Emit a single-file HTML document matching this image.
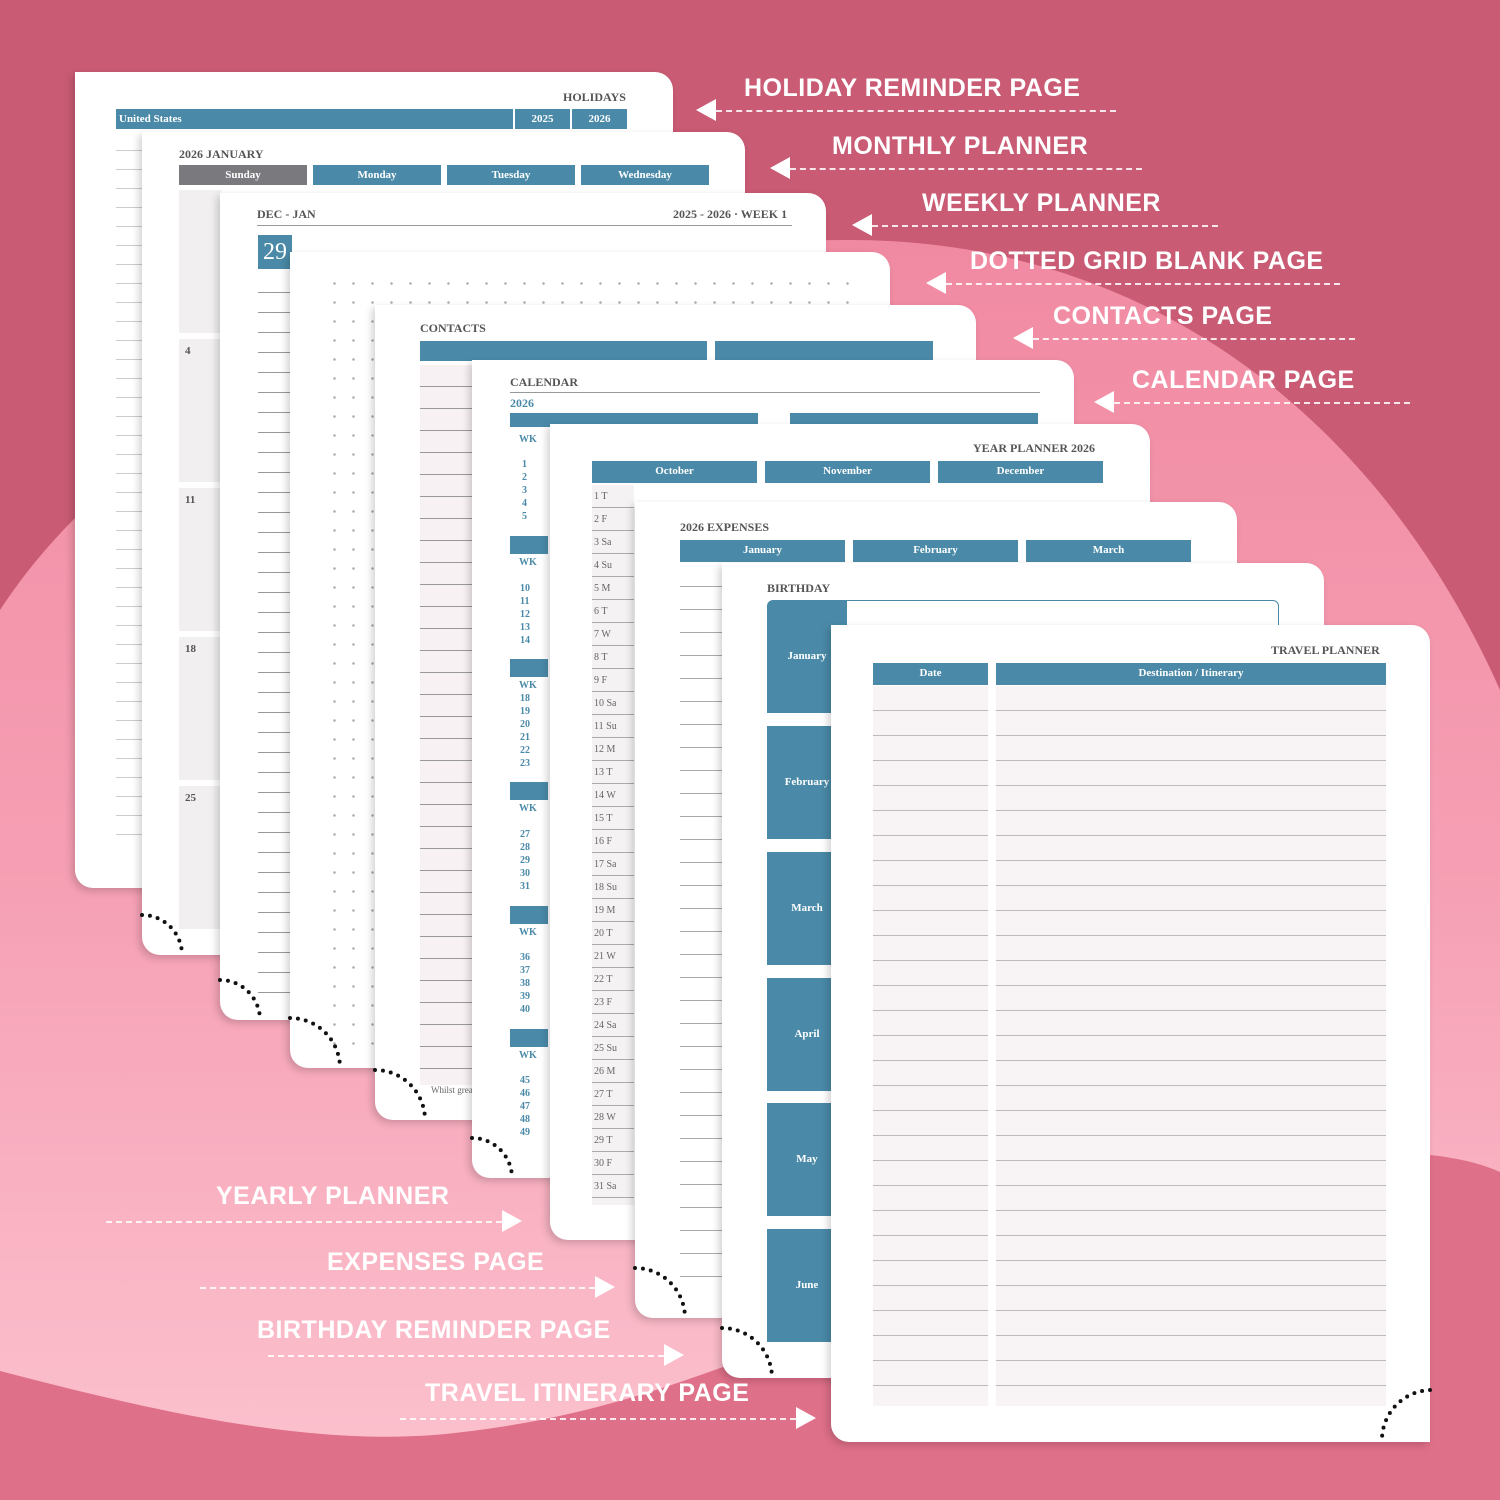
<!DOCTYPE html>
<html><head><meta charset="utf-8"><style>
*{margin:0;padding:0;box-sizing:border-box}
body{width:1500px;height:1500px;position:relative;overflow:hidden;font-family:"Liberation Serif",serif;background:#c95b74}
.pg{position:absolute;background:#fff;border-radius:0 18px 0 18px;box-shadow:-3px 3px 8px rgba(0,0,0,.18);overflow:hidden}
.t{position:absolute;font-weight:bold;color:#555;font-size:12px}
.bar{position:absolute;background:#4a8aa8;color:#fff;font-weight:bold;font-size:11px;text-align:center;line-height:20px}
.lab{position:absolute;color:#fff;font-family:"Liberation Sans",sans-serif;font-weight:bold;font-size:25px;letter-spacing:.5px}
.dl{position:absolute;border-top:2px dashed rgba(255,255,255,.85);height:0}
.al{position:absolute;width:0;height:0;border-top:11px solid transparent;border-bottom:11px solid transparent}
.lines{position:absolute}
.sm{position:absolute;font-size:10px;color:#4a8aa8;font-weight:bold}
.num{position:absolute;font-size:11px;color:#555;font-weight:bold}
</style></head><body>
<svg width="1500" height="1500" style="position:absolute;left:0;top:0">
<defs><linearGradient id="g" x1="0" y1="0" x2="0" y2="1"><stop offset="0" stop-color="#f08aa2"/><stop offset="0.5" stop-color="#f69fb4"/><stop offset="1" stop-color="#fcc3cf"/></linearGradient></defs>
<path d="M0 610 C150 380 500 240 850 240 C1150 240 1380 420 1500 690 L1500 1500 L0 1500Z" fill="url(#g)"/>
<path d="M0 1371 C150 1410 300 1445 434 1435 C600 1420 700 1375 850 1320 C1100 1220 1300 1150 1430 1155 C1460 1158 1485 1165 1500 1172 L1500 1500 L0 1500Z" fill="#df7089"/>
</svg>

<!-- 1 holiday -->
<div class="pg" style="left:75px;top:72px;width:598px;height:816px">
<div class="t" style="left:488px;top:18px">HOLIDAYS</div>
<div class="bar" style="left:41px;top:37px;width:397px;text-align:left;padding-left:3px">United States</div>
<div class="bar" style="left:440px;top:37px;width:55px">2025</div>
<div class="bar" style="left:497px;top:37px;width:55px">2026</div>
<div class="lines" style="left:41px;top:60px;width:30px;height:720px;background:repeating-linear-gradient(to bottom,#fff 0,#fff 18px,#ccc 18px,#ccc 19px)"></div>
</div>
<!-- 2 monthly -->
<div class="pg" style="left:142px;top:132px;width:603px;height:823px">
<div class="t" style="left:37px;top:15px">2026 JANUARY</div>
<div class="bar" style="left:37px;top:33px;width:128px;background:#7a7a7e">Sunday</div>
<div class="bar" style="left:171px;top:33px;width:128px">Monday</div>
<div class="bar" style="left:305px;top:33px;width:128px">Tuesday</div>
<div class="bar" style="left:439px;top:33px;width:128px">Wednesday</div>
<div style="position:absolute;left:37px;top:58px;width:42px;height:740px;background:repeating-linear-gradient(to bottom,#f1eff0 0,#f1eff0 143px,#fff 143px,#fff 149px)"></div>
<div class="num" style="left:43px;top:213px">4</div>
<div class="num" style="left:43px;top:362px">11</div>
<div class="num" style="left:43px;top:511px">18</div>
<div class="num" style="left:43px;top:660px">25</div>
</div>
<!-- 3 weekly -->
<div class="pg" style="left:220px;top:193px;width:606px;height:827px">
<div class="t" style="left:37px;top:14px">DEC - JAN</div>
<div class="t" style="left:453px;top:14px">2025 - 2026 · WEEK 1</div>
<div style="position:absolute;left:37px;top:32px;width:535px;border-top:1px solid #999"></div>
<div class="bar" style="left:38px;top:42px;width:34px;height:34px;font-size:24px;line-height:34px;font-weight:normal">29</div>
<div class="bar" style="left:38px;top:234px;width:34px;height:34px;font-size:24px;line-height:34px;font-weight:normal">30</div>
<div class="bar" style="left:38px;top:426px;width:34px;height:34px;font-size:24px;line-height:34px;font-weight:normal">31</div>
<div class="bar" style="left:38px;top:618px;width:34px;height:34px;font-size:24px;line-height:34px;font-weight:normal">1</div>
<div class="lines" style="left:38px;top:80px;width:34px;height:720px;background:repeating-linear-gradient(to bottom,#fff 0,#fff 19px,#999 19px,#999 20px)"></div>
</div>
<!-- 4 dotted -->
<div class="pg" style="left:290px;top:252px;width:600px;height:816px">
<div style="position:absolute;left:35px;top:22px;width:540px;height:780px;background:radial-gradient(circle,#aaa 1px,transparent 1.5px) 0 0/19px 19px"></div>
</div>
<!-- 5 contacts -->
<div class="pg" style="left:375px;top:305px;width:601px;height:815px">
<div class="t" style="left:45px;top:16px">CONTACTS</div>
<div class="bar" style="left:45px;top:36px;width:287px;height:20px"></div>
<div class="bar" style="left:340px;top:36px;width:218px;height:20px"></div>
<div class="lines" style="left:45px;top:60px;width:60px;height:720px;background:repeating-linear-gradient(to bottom,#f8f1f3 0,#f8f1f3 21px,#999 21px,#999 22px)"></div>
<div style="position:absolute;left:56px;top:780px;font-size:9px;color:#666">Whilst grea</div>
</div>
<!-- 6 calendar -->
<div class="pg" style="left:472px;top:360px;width:602px;height:818px">
<div class="t" style="left:38px;top:15px">CALENDAR</div>
<div style="position:absolute;left:38px;top:32px;width:530px;border-top:1px solid #999"></div>
<div class="t" style="left:38px;top:36px;color:#4a8aa8">2026</div>
<div class="bar" style="left:38px;top:53px;width:248px;height:14px"></div>
<div class="bar" style="left:318px;top:53px;width:248px;height:14px"></div>
<div class="bar" style="left:38px;top:176px;width:38px;height:18px"></div>
<div class="bar" style="left:38px;top:299px;width:38px;height:18px"></div>
<div class="bar" style="left:38px;top:422px;width:38px;height:18px"></div>
<div class="bar" style="left:38px;top:546px;width:38px;height:18px"></div>
<div class="bar" style="left:38px;top:669px;width:38px;height:18px"></div>
<div class="sm" style="left:47px;top:74px">WK</div>
<div class="sm" style="left:47px;top:197px">WK</div>
<div class="sm" style="left:47px;top:320px">WK</div>
<div class="sm" style="left:47px;top:443px">WK</div>
<div class="sm" style="left:47px;top:567px">WK</div>
<div class="sm" style="left:47px;top:690px">WK</div>
<div class="sm" style="left:50px;top:98px;line-height:13px">1<br>2<br>3<br>4<br>5</div>
<div class="sm" style="left:48px;top:222px;line-height:13px">10<br>11<br>12<br>13<br>14</div>
<div class="sm" style="left:48px;top:332px;line-height:13px">18<br>19<br>20<br>21<br>22<br>23</div>
<div class="sm" style="left:48px;top:468px;line-height:13px">27<br>28<br>29<br>30<br>31</div>
<div class="sm" style="left:48px;top:591px;line-height:13px">36<br>37<br>38<br>39<br>40</div>
<div class="sm" style="left:48px;top:714px;line-height:13px">45<br>46<br>47<br>48<br>49</div>
</div>
<!-- 7 year planner -->
<div class="pg" style="left:550px;top:424px;width:600px;height:816px">
<div class="t" style="left:423px;top:17px">YEAR PLANNER 2026</div>
<div class="bar" style="left:42px;top:37px;width:165px;height:22px">October</div>
<div class="bar" style="left:215px;top:37px;width:165px;height:22px">November</div>
<div class="bar" style="left:388px;top:37px;width:165px;height:22px">December</div>
<div class="lines" style="left:42px;top:61px;width:42px;height:720px;background:repeating-linear-gradient(to bottom,#f4f2f3 0,#f4f2f3 22px,#aaa 22px,#aaa 23px)"></div>
<div style="position:absolute;left:44px;top:61px;font-size:10px;color:#666;line-height:23px">1 T<br>2 F<br>3 Sa<br>4 Su<br>5 M<br>6 T<br>7 W<br>8 T<br>9 F<br>10 Sa<br>11 Su<br>12 M<br>13 T<br>14 W<br>15 T<br>16 F<br>17 Sa<br>18 Su<br>19 M<br>20 T<br>21 W<br>22 T<br>23 F<br>24 Sa<br>25 Su<br>26 M<br>27 T<br>28 W<br>29 T<br>30 F<br>31 Sa</div>
</div>
<!-- 8 expenses -->
<div class="pg" style="left:635px;top:502px;width:602px;height:816px">
<div class="t" style="left:45px;top:18px">2026 EXPENSES</div>
<div class="bar" style="left:45px;top:38px;width:165px;height:22px">January</div>
<div class="bar" style="left:218px;top:38px;width:165px;height:22px">February</div>
<div class="bar" style="left:391px;top:38px;width:165px;height:22px">March</div>
<div class="lines" style="left:45px;top:62px;width:42px;height:720px;background:repeating-linear-gradient(to bottom,#fff 0,#fff 22px,#aaa 22px,#aaa 23px)"></div>
</div>
<!-- 9 birthday -->
<div class="pg" style="left:722px;top:563px;width:602px;height:815px">
<div class="t" style="left:45px;top:18px">BIRTHDAY</div>
<div style="position:absolute;left:122px;top:37px;width:435px;height:60px;border:1px solid #4a8aa8;border-radius:0 6px 0 0"></div>
<div class="bar" style="left:45px;top:37px;width:80px;height:113px;line-height:113px;border-radius:6px 0 0 0">January</div>
<div class="bar" style="left:45px;top:163px;width:80px;height:113px;line-height:113px">February</div>
<div class="bar" style="left:45px;top:289px;width:80px;height:113px;line-height:113px">March</div>
<div class="bar" style="left:45px;top:415px;width:80px;height:113px;line-height:113px">April</div>
<div class="bar" style="left:45px;top:540px;width:80px;height:113px;line-height:113px">May</div>
<div class="bar" style="left:45px;top:666px;width:80px;height:113px;line-height:113px">June</div>
</div>
<!-- 10 travel -->
<div class="pg" style="left:831px;top:625px;width:599px;height:817px">
<div class="t" style="left:440px;top:18px">TRAVEL PLANNER</div>
<div class="bar" style="left:42px;top:38px;width:115px;height:22px">Date</div>
<div class="bar" style="left:165px;top:38px;width:390px;height:22px">Destination / Itinerary</div>
<div class="lines" style="left:42px;top:61px;width:115px;height:720px;background:repeating-linear-gradient(to bottom,#f8f3f4 0,#f8f3f4 24px,#bbb 24px,#bbb 25px)"></div>
<div class="lines" style="left:165px;top:61px;width:390px;height:720px;background:repeating-linear-gradient(to bottom,#f8f3f4 0,#f8f3f4 24px,#bbb 24px,#bbb 25px)"></div>
</div>

<svg width="1500" height="1500" style="position:absolute;left:0;top:0" fill="none" stroke="#111" stroke-width="4" stroke-linecap="round" stroke-dasharray="0 8">
<path d="M142 915 A40 40 0 0 1 182 955"/>
<path d="M220 980 A40 40 0 0 1 260 1020"/>
<path d="M290 1018 A50 50 0 0 1 340 1068"/>
<path d="M375 1070 A50 50 0 0 1 425 1120"/>
<path d="M472 1138 A40 40 0 0 1 512 1178"/>
<path d="M635 1268 A50 50 0 0 1 685 1318"/>
<path d="M722 1328 A50 50 0 0 1 772 1378"/>
<path d="M1430 1390 A50 50 0 0 0 1382 1442"/>
</svg>

<!-- labels right -->
<div class="lab" style="left:744px;top:74px">HOLIDAY REMINDER PAGE</div>
<div class="dl" style="left:716px;top:110px;width:400px"></div><div class="al" style="left:696px;top:99px;border-right:20px solid #fff"></div>
<div class="lab" style="left:832px;top:132px">MONTHLY PLANNER</div>
<div class="dl" style="left:790px;top:168px;width:352px"></div><div class="al" style="left:770px;top:157px;border-right:20px solid #fff"></div>
<div class="lab" style="left:922px;top:189px">WEEKLY PLANNER</div>
<div class="dl" style="left:872px;top:225px;width:346px"></div><div class="al" style="left:852px;top:214px;border-right:20px solid #fff"></div>
<div class="lab" style="left:970px;top:247px">DOTTED GRID BLANK PAGE</div>
<div class="dl" style="left:946px;top:283px;width:394px"></div><div class="al" style="left:926px;top:272px;border-right:20px solid #fff"></div>
<div class="lab" style="left:1053px;top:302px">CONTACTS PAGE</div>
<div class="dl" style="left:1033px;top:338px;width:322px"></div><div class="al" style="left:1013px;top:327px;border-right:20px solid #fff"></div>
<div class="lab" style="left:1132px;top:366px">CALENDAR PAGE</div>
<div class="dl" style="left:1114px;top:402px;width:296px"></div><div class="al" style="left:1094px;top:391px;border-right:20px solid #fff"></div>
<!-- labels left -->
<div class="lab" style="left:216px;top:1182px">YEARLY PLANNER</div>
<div class="dl" style="left:106px;top:1221px;width:396px"></div><div class="al" style="left:502px;top:1210px;border-left:20px solid #fff"></div>
<div class="lab" style="left:327px;top:1248px">EXPENSES PAGE</div>
<div class="dl" style="left:200px;top:1287px;width:395px"></div><div class="al" style="left:595px;top:1276px;border-left:20px solid #fff"></div>
<div class="lab" style="left:257px;top:1316px">BIRTHDAY REMINDER PAGE</div>
<div class="dl" style="left:268px;top:1355px;width:396px"></div><div class="al" style="left:664px;top:1344px;border-left:20px solid #fff"></div>
<div class="lab" style="left:425px;top:1379px">TRAVEL ITINERARY PAGE</div>
<div class="dl" style="left:400px;top:1418px;width:396px"></div><div class="al" style="left:796px;top:1407px;border-left:20px solid #fff"></div>
</body></html>
